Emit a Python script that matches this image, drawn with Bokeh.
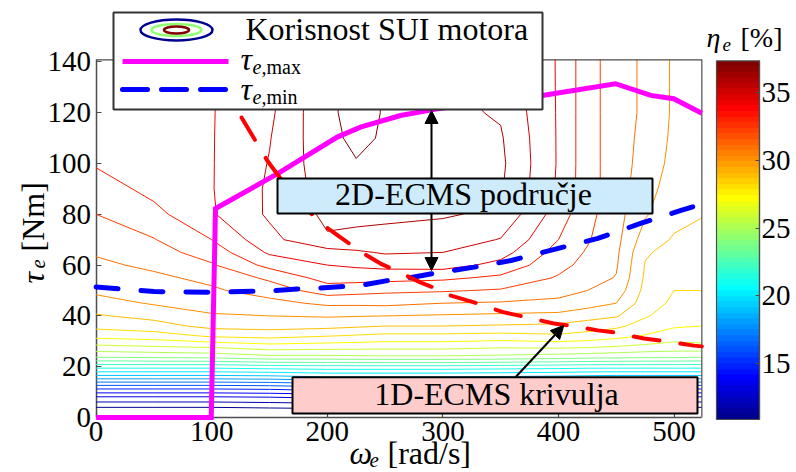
import math
import numpy as np
from bokeh.plotting import figure
from bokeh.models import Range1d, LinearAxis, FixedTicker, LinearColorMapper, Arrow, NormalHead
from bokeh.core.properties import value
from bokeh.embed import file_html
from bokeh.resources import INLINE

# ---------------- data ----------------
OMEGA = [0, 50, 100, 150, 200, 225, 250, 300, 350, 400, 425, 450, 475, 500, 524]
TAU = [0, 4, 8, 12, 16, 20, 24, 28, 32, 36, 40, 45, 50, 55, 60, 65, 70, 80, 90, 100, 110, 120, 130, 141]

# engine efficiency [%] along TAU, one list per omega column
eta_w0 = [9.5, 11.0, 12.9, 15.5, 18.6, 21.4, 24.2, 25.8, 27.3, 28.3, 28.9, 29.6, 30.2, 30.5, 30.8, 31.1, 31.4, 32.0, 32.5, 33.1, 33.4, 33.6, 33.7, 33.8]
eta_w50 = [9.5, 11.0, 12.9, 15.5, 18.6, 21.4, 24.3, 26.0, 27.5, 28.6, 29.3, 30.1, 30.5, 30.8, 31.2, 31.6, 31.95, 32.7, 33.3, 33.6, 33.75, 33.8, 33.85, 33.85]
eta_w100 = [9.5, 11.0, 12.9, 15.5, 18.6, 21.4, 24.4, 26.2, 28.1, 29.3, 29.9, 30.4, 30.85, 31.25, 31.9, 32.45, 33.0, 33.9, 33.95, 33.95, 33.95, 33.95, 33.95, 33.95]
eta_w150 = [9.5, 11.1, 13.0, 15.6, 18.7, 21.6, 24.8, 26.6, 28.3, 29.4, 30.0, 30.7, 31.45, 32.2, 33.3, 34.15, 34.7, 35.15, 35.15, 35.05, 34.95, 34.8, 34.7, 34.6]
eta_w200 = [9.5, 11.2, 13.2, 15.9, 19.0, 21.7, 24.8, 26.5, 28.0, 29.3, 30.1, 31.2, 32.5, 33.4, 34.0, 34.6, 35.9, 36.2, 36.45, 36.65, 36.75, 36.85, 36.85, 36.85]
eta_w225 = [9.5, 11.2, 13.2, 15.9, 19.0, 21.7, 24.85, 26.45, 27.85, 29.15, 30.05, 31.2, 32.35, 33.4, 34.15, 34.85, 35.75, 36.25, 36.6, 36.95, 37.2, 37.25, 37.25, 37.2]
eta_w250 = [9.5, 11.2, 13.2, 15.9, 19.0, 21.7, 24.9, 26.4, 27.7, 29.0, 30.0, 31.25, 32.2, 33.35, 34.3, 35.1, 35.6, 36.25, 36.55, 36.75, 36.9, 36.95, 36.95, 36.9]
eta_w300 = [9.5, 11.2, 13.2, 15.9, 19.0, 21.7, 24.9, 26.4, 27.7, 29.0, 29.9, 31.0, 32.1, 33.2, 34.4, 35.0, 35.5, 36.1, 36.3, 36.4, 36.4, 36.25, 36.15, 36.1]
eta_w350 = [9.5, 11.2, 13.1, 15.8, 18.9, 21.6, 24.8, 26.2, 27.6, 28.9, 29.8, 30.9, 31.9, 32.8, 33.7, 34.4, 34.95, 35.8, 36.1, 36.2, 36.1, 35.9, 35.7, 35.6]
eta_w400 = [9.5, 11.1, 13.0, 15.7, 18.8, 21.5, 24.6, 26.3, 27.8, 28.8, 29.7, 30.8, 31.3, 31.9, 32.3, 32.6, 33.0, 33.5, 33.85, 33.9, 33.9, 33.9, 33.9, 33.9]
eta_w425 = [9.5, 11.0, 12.9, 15.6, 18.7, 21.4, 24.5, 26.2, 27.6, 28.5, 29.4, 30.4, 31.0, 31.4, 31.7, 31.9, 32.1, 32.3, 32.4, 32.4, 32.4, 32.4, 32.4, 32.4]
eta_w450 = [9.5, 11.0, 12.9, 15.5, 18.6, 21.4, 24.4, 26.0, 27.3, 28.2, 29.1, 30.0, 30.6, 30.95, 31.1, 31.2, 31.3, 31.4, 31.5, 31.5, 31.5, 31.5, 31.5, 31.5]
eta_w475 = [9.5, 11.0, 12.9, 15.5, 18.6, 21.4, 24.3, 25.8, 26.9, 27.6, 28.1, 28.5, 28.7, 28.85, 28.95, 29.1, 29.5, 30.1, 30.4, 30.6, 30.7, 30.8, 30.8, 30.8]
eta_w500 = [9.5, 11.0, 12.9, 15.5, 18.6, 21.4, 24.3, 25.6, 26.5, 27.1, 27.5, 27.8, 28.0, 28.2, 28.4, 28.7, 28.9, 29.3, 29.5, 29.7, 29.8, 29.85, 29.85, 29.85]
eta_w524 = [9.5, 11.0, 12.9, 15.5, 18.6, 21.4, 24.2, 25.7, 26.6, 27.0, 27.3, 27.6, 28.0, 28.2, 28.4, 28.55, 28.7, 29.05, 29.2, 29.3, 29.35, 29.4, 29.4, 29.4]

LEVELS = list(range(11, 38))
ETA_LOW, ETA_HIGH = 10.9, 37.3

# tau_e,max curve
W_MAX = [0, 99.6, 103.3, 156.7, 208.6, 228.7, 263.3, 295.1, 385.9, 449.3, 479.8, 499.7, 524]
T_MAX = [0, 0, 82.3, 95.9, 110.4, 114.3, 118.9, 121.5, 126.8, 131.4, 126.8, 125.5, 119.8]
# tau_e,min curve
W_MIN = [0, 50, 100, 150, 174, 192, 229, 252, 268, 292, 327, 359, 376, 399, 434, 471, 506, 524]
T_MIN = [51.4, 49.6, 49.3, 49.8, 50.6, 50.9, 52.0, 53.9, 54.7, 56.7, 59.2, 61.8, 63.8, 66.5, 70.5, 76.4, 81.5, 84.1]
# 1D-ECMS curve
W_1D = [105, 122, 148, 167, 186, 197, 209, 228, 246, 259, 281, 294, 307, 330, 352, 367, 396, 410, 434, 448, 474, 488, 517, 524]
T_1D = [134, 121, 101.2, 89.5, 80.3, 75.6, 71.7, 65.5, 60.6, 57.9, 53.1, 50.8, 48.0, 44.9, 41.5, 40.0, 37.0, 36.2, 34.3, 33.5, 31.1, 30.3, 28.3, 28.0]

X_TICKS = [0, 100, 200, 300, 400, 500]
Y_TICKS = [0, 20, 40, 60, 80, 100, 120, 140]
CB_TICKS = [15, 20, 25, 30, 35]
OMEGA_END = 524
TAU_END = 140.8

# ---------------- layout helpers (picture pixel -> data) ----------------
W_PX, H_PX = 796, 472

def wx(px):
    return (px - 95.6) / 1.156

def ty(py):
    return (417.0 - py) / 2.54

def ey(py):
    return 35.0 - (py - 91.7) / 13.58

def jet(m=64):
    n = int(math.ceil(m / 4))
    u = np.concatenate([np.arange(1, n + 1) / n, np.ones(n - 1), np.arange(n, 0, -1) / n])
    g = int(math.ceil(n / 2)) - (1 if m % 4 == 1 else 0) + np.arange(1, len(u) + 1)
    r = g + n
    b = g - n
    J = np.zeros((m, 3))
    for arr, col in ((r, 0), (g, 1), (b, 2)):
        mask = (arr >= 1) & (arr <= m)
        J[arr[mask] - 1, col] = u[mask]
    return ["#%02x%02x%02x" % tuple(int(round(c * 255)) for c in row) for row in J]

JET = jet(64)

def level_color(v):
    i = int((v - ETA_LOW) / (ETA_HIGH - ETA_LOW) * 64)
    return JET[max(0, min(63, i))]

SERIF = "'Liberation Serif'"
FONT = value(SERIF)

p = figure(width=W_PX, height=H_PX, output_backend="svg", toolbar_location=None,
           x_axis_type=None, y_axis_type=None, min_border=0, title=None,
           x_range=Range1d(wx(0), wx(W_PX)), y_range=Range1d(ty(H_PX), ty(0)))
p.extra_y_ranges = {"eta": Range1d(ey(H_PX), ey(0))}
p.outline_line_color = None
p.background_fill_color = "white"
p.border_fill_color = "white"

# ---- contours ----
X, Y = np.meshgrid(OMEGA, TAU)
Z = np.column_stack([eta_w0, eta_w50, eta_w100, eta_w150, eta_w200, eta_w225, eta_w250,
                     eta_w300, eta_w350, eta_w400, eta_w425, eta_w450, eta_w475, eta_w500, eta_w524])
p.contour(X, Y, Z, LEVELS, line_color=[level_color(v) for v in LEVELS], line_width=1.0)

# box top/right
p.line([0, OMEGA_END, OMEGA_END], [TAU_END, TAU_END, 0], line_color="#4d4d4d", line_width=1.2)

# curves
p.line(W_MAX, T_MAX, line_color="#ff00ff", line_width=5, line_join="miter")
p.line(W_MIN, T_MIN, line_color="#0000ff", line_width=5, line_dash="22 23", line_cap="round")
p.line(W_1D, T_1D, line_color="#ff0000", line_width=4, line_dash="26 21", line_cap="round")

# ---- axes ----
ax_common = dict(axis_line_color="#4d4d4d", axis_line_width=1.5, major_tick_in=5, major_tick_out=0,
                 major_tick_line_color="#4d4d4d", major_tick_line_width=1.2, minor_tick_line_color=None,
                 major_label_text_font=SERIF, major_label_text_color="black")
xaxis = LinearAxis(fixed_location=0, bounds=(0, OMEGA_END), ticker=FixedTicker(ticks=X_TICKS),
                   major_label_text_font_size="29px", major_label_standoff=4, **ax_common)
xaxis.level = "underlay"
p.add_layout(xaxis, "below")
yaxis = LinearAxis(fixed_location=0, bounds=(0, TAU_END), ticker=FixedTicker(ticks=Y_TICKS),
                   major_label_text_font_size="29px", major_label_standoff=5, **ax_common)
yaxis.level = "underlay"
p.add_layout(yaxis, "left")

# ---- colorbar ----
cb_l, cb_r = wx(716), wx(759)
cb_vals = ETA_LOW + (np.arange(64) + 0.5) * (ETA_HIGH - ETA_LOW) / 64
mapper = LinearColorMapper(palette=JET, low=ETA_LOW, high=ETA_HIGH)
p.image(image=[cb_vals.reshape(64, 1)], x=cb_l, y=ETA_LOW, dw=cb_r - cb_l, dh=ETA_HIGH - ETA_LOW,
        color_mapper=mapper, y_range_name="eta")
p.quad(left=[cb_l], right=[cb_r], bottom=[ETA_LOW], top=[ETA_HIGH], fill_color=None,
       line_color="#4d4d4d", line_width=1.2, y_range_name="eta")
cbaxis = LinearAxis(y_range_name="eta", fixed_location=cb_r, bounds=(ETA_LOW, ETA_HIGH),
                    ticker=FixedTicker(ticks=CB_TICKS), axis_line_color="#4d4d4d", axis_line_width=1.2,
                    major_tick_in=4, major_tick_out=0, major_tick_line_color="#4d4d4d",
                    minor_tick_line_color=None, major_label_text_font=SERIF,
                    major_label_text_font_size="29px", major_label_standoff=2,
                    major_label_text_color="black")
p.add_layout(cbaxis, "right")

BASELINE_FIX = 0.344  # observed renderer offset of the alphabetic baseline (em)

def add_text(px, py, s, size, style="normal", align="left", angle=0.0, color="black"):
    if angle == 0.0:
        py = py - BASELINE_FIX * size
    p.text(x=[wx(px)], y=[ty(py)], text=[s], text_font=FONT, text_font_size=value(f"{size}px"),
           text_font_style=value(style), text_align=value(align), text_baseline=value("alphabetic"),
           text_color=color, angle=angle)

# ---- annotation boxes ----
p.quad(left=[wx(277)], right=[wx(652)], top=[ty(178)], bottom=[ty(213)],
       fill_color="#cdebfb", line_color="black", line_width=2)
add_text(463, 205, "2D-ECMS područje", 32, align="center")
p.quad(left=[wx(292)], right=[wx(697)], top=[ty(376.7)], bottom=[ty(413)],
       fill_color="#ffcccc", line_color="black", line_width=2)
add_text(496, 405, "1D-ECMS krivulja", 32, align="center")

def head():
    return NormalHead(size=13, fill_color="black", line_color="black", line_width=1)

p.add_layout(Arrow(end=head(), x_start=wx(431), y_start=ty(178), x_end=wx(431), y_end=ty(110),
                   line_color="black", line_width=2))
p.add_layout(Arrow(end=head(), x_start=wx(431), y_start=ty(213), x_end=wx(431), y_end=ty(270),
                   line_color="black", line_width=2))
p.add_layout(Arrow(end=head(), x_start=wx(515), y_start=ty(376.7), x_end=wx(563.3), y_end=ty(325),
                   line_color="black", line_width=2))

# ---- legend ----
p.quad(left=[wx(113)], right=[wx(542)], top=[ty(12)], bottom=[ty(109)],
       fill_color="white", line_color="#333333", line_width=2)
p.ellipse(x=[wx(176)] * 3, y=[ty(29.5)] * 3, width=[72, 50, 25], height=[21, 12, 7],
          width_units="screen", height_units="screen", fill_color=None,
          line_color=[JET[0], JET[32], JET[63]], line_width=2.5)
add_text(245, 40, "Korisnost SUI motora", 32)
p.line([wx(122), wx(228)], [ty(61), ty(61)], line_color="#ff00ff", line_width=5)
p.line([wx(122), wx(228)], [ty(89), ty(89)], line_color="#0000ff", line_width=5,
       line_dash="25 14", line_cap="round")
add_text(240, 70, "τ", 32, style="italic")
add_text(252, 73, "e,", 20, style="italic")
add_text(266, 73, "max", 20)
add_text(240, 100, "τ", 32, style="italic")
add_text(252, 103, "e,", 20, style="italic")
add_text(266, 103, "min", 20)

# ---- axis labels ----
add_text(349, 464, "ω", 32, style="italic")
add_text(369, 467, "e", 21, style="italic")
add_text(387, 464, "[rad/s]", 32)
add_text(32, 283, "τ", 32, style="italic", angle=math.pi / 2)
add_text(37, 268, "e", 21, style="italic", angle=math.pi / 2)
add_text(32, 251, "[Nm]", 32, angle=math.pi / 2)

# colorbar title
add_text(706, 47, "η", 28, style="italic")
add_text(722, 51, "e", 19, style="italic")
add_text(740, 47, "[%]", 28)

open("out.html", "w").write(file_html(p, INLINE))
